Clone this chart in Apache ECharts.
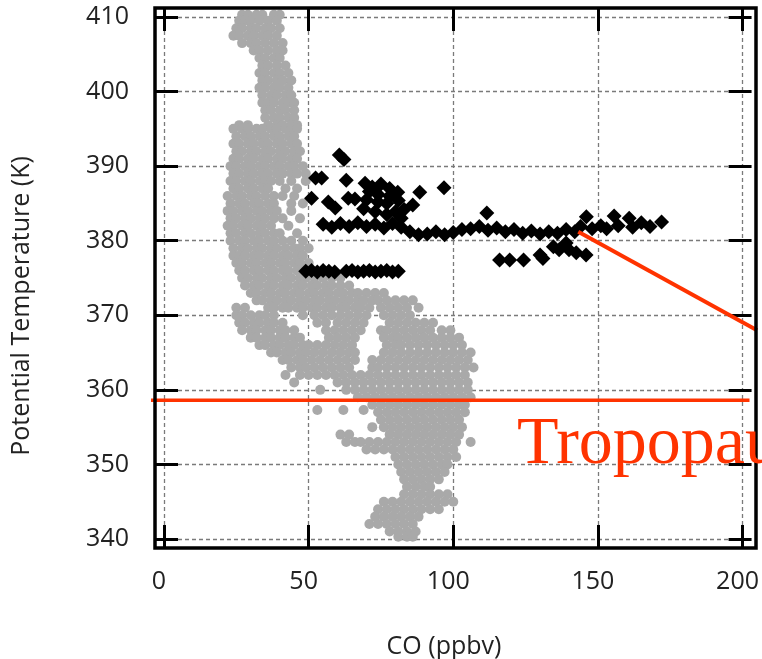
<!DOCTYPE html>
<html>
<head>
<meta charset="utf-8">
<script src="https://cdn.jsdelivr.net/npm/echarts@6.0.0/dist/echarts.min.js"></script>
<style>
  html, body { margin: 0; padding: 0; background: #fff; }
  #chart { width: 762px; height: 659px; }
</style>
</head>
<body>
<div id="chart"></div>
<script>
// Axis ticks
const coTicks = [0, 50, 100, 150, 200];
const thetaTicks = [340, 350, 360, 370, 380, 390, 400, 410];

// Background air: rows of [potential temperature (K), CO values (ppbv)]
const backgroundRows = [
  [410.3, [27, 29, 32, 34, 38, 40]],
  [409.5, [26, 28, 30, 33, 36, 39]],
  [408.5, [25, 27, 30, 32, 35, 37, 40]],
  [407.5, [24, 26, 29, 31, 34, 36, 39]],
  [406.5, [27, 30, 32, 35, 38, 41]],
  [405.5, [31, 33, 36, 39, 41]],
  [404.5, [33, 35, 38, 40]],
  [403.5, [34, 36, 39, 42]],
  [402.5, [33, 35, 38, 40, 43]],
  [401.5, [34, 36, 39, 41, 44]],
  [400.5, [33, 35, 38, 40, 43]],
  [399.5, [34, 37, 39, 42, 44]],
  [398.5, [34, 36, 38, 41, 43, 45]],
  [397.5, [35, 37, 40, 42, 45]],
  [396.5, [35, 38, 40, 43, 45]],
  [395.5, [26, 29, 36, 39, 41, 44, 46]],
  [395, [24, 27, 29, 32, 34, 37, 39, 42, 44, 46]],
  [394, [25, 28, 30, 33, 35, 38, 40, 43, 45]],
  [393, [24, 26, 29, 31, 34, 36, 39, 41, 44, 46]],
  [392, [25, 27, 30, 32, 35, 37, 40, 42, 45, 47]],
  [391, [24, 26, 29, 31, 34, 36, 39, 41, 44, 46]],
  [390, [23, 25, 28, 30, 33, 35, 38, 40, 43, 45, 48]],
  [389, [24, 26, 29, 31, 34, 36, 39, 41, 44, 46, 49]],
  [388, [23, 25, 28, 30, 33, 35, 37, 40, 44, 49]],
  [387, [24, 26, 29, 31, 34, 36, 42, 46]],
  [386, [22, 25, 27, 30, 32, 35, 38, 41, 45]],
  [385, [23, 26, 28, 31, 33, 36, 38, 44, 48]],
  [384, [22, 24, 27, 29, 32, 34, 37, 39, 44]],
  [383, [23, 25, 28, 30, 33, 35, 38, 41, 47]],
  [382, [22, 24, 27, 29, 32, 34, 37, 43]],
  [381, [23, 25, 28, 30, 33, 35, 38, 40, 46]],
  [380, [23, 26, 28, 31, 33, 36, 38, 41, 44, 48]],
  [379, [24, 27, 29, 32, 34, 37, 39, 42, 45, 47, 50]],
  [378, [24, 26, 28, 31, 33, 36, 38, 41, 43, 46, 48]],
  [377, [25, 27, 30, 32, 35, 37, 40, 42, 45, 47, 50]],
  [376, [26, 28, 31, 33, 36, 38, 41, 43, 46, 48]],
  [375, [27, 29, 32, 34, 37, 39, 42, 44, 47, 49, 52, 55, 58, 61]],
  [374, [28, 31, 33, 36, 38, 41, 43, 46, 48, 51, 53, 56, 58, 61, 64]],
  [373, [30, 32, 35, 37, 40, 42, 45, 47, 50, 52, 55, 57, 60, 62, 65, 67, 70, 73, 76]],
  [372, [32, 34, 37, 39, 42, 44, 47, 49, 52, 54, 57, 59, 62, 64, 67, 69, 72, 74, 77, 80, 83, 86]],
  [371, [25, 28, 36, 38, 41, 43, 46, 48, 51, 53, 56, 58, 61, 63, 66, 68, 71, 75, 78, 81, 84, 88]],
  [370, [25, 27, 30, 33, 35, 38, 48, 52, 55, 58, 61, 64, 67, 70, 76, 79, 82, 85]],
  [369, [26, 28, 31, 33, 36, 38, 41, 53, 56, 60, 63, 66, 69, 78, 81, 84, 87, 90, 93]],
  [368, [27, 30, 32, 35, 37, 40, 42, 45, 56, 59, 62, 65, 68, 75, 77, 80, 83, 86, 89, 92, 96, 99]],
  [367, [30, 32, 35, 37, 40, 42, 45, 47, 57, 60, 63, 66, 76, 79, 81, 84, 87, 90, 93, 96, 99, 102]],
  [366, [33, 35, 38, 40, 43, 45, 48, 50, 53, 56, 59, 62, 65, 77, 80, 82, 85, 88, 91, 94, 97, 100, 103]],
  [365, [37, 39, 42, 44, 47, 49, 52, 55, 58, 61, 64, 66, 76, 79, 82, 85, 88, 91, 94, 97, 100, 103, 106]],
  [364, [41, 43, 46, 48, 51, 54, 57, 60, 63, 66, 72, 75, 78, 81, 84, 87, 90, 93, 96, 99, 102, 105]],
  [363, [44, 47, 49, 52, 55, 58, 61, 64, 72, 74, 77, 80, 83, 86, 89, 92, 95, 98, 101, 104, 107]],
  [362, [42, 47, 50, 53, 56, 59, 62, 65, 68, 71, 74, 77, 80, 83, 86, 89, 92, 95, 98, 101, 104]],
  [361, [45, 60, 63, 66, 69, 72, 75, 78, 81, 84, 87, 90, 93, 96, 99, 102, 105]],
  [360, [54, 63, 66, 69, 72, 75, 78, 81, 84, 87, 90, 93, 96, 99, 102, 105]],
  [359, [67, 70, 73, 76, 79, 82, 85, 88, 91, 94, 97, 100, 103, 106]],
  [358, [72, 75, 78, 81, 84, 87, 90, 93, 96, 99, 102, 104]],
  [357.3, [53, 62, 69]],
  [357, [74, 77, 80, 83, 86, 89, 92, 95, 98, 101, 104]],
  [356, [75, 78, 81, 84, 87, 90, 93, 96, 99, 102]],
  [355, [72, 76, 79, 82, 85, 88, 91, 94, 97, 100, 103]],
  [354, [61, 64, 78, 81, 84, 87, 90, 93, 96, 99, 102]],
  [353, [63, 66, 68, 71, 74, 77, 80, 83, 86, 89, 92, 95, 98, 101, 106]],
  [352, [70, 73, 76, 79, 82, 85, 88, 91, 94, 97, 100]],
  [351, [80, 83, 86, 89, 92, 95, 98, 101]],
  [350, [81, 84, 87, 90, 93, 96, 98]],
  [349, [82, 85, 88, 91, 94, 97]],
  [348, [83, 86, 89, 92, 95]],
  [347, [84, 87, 90, 92]],
  [346, [83, 86, 89, 92, 95, 98]],
  [345, [76, 79, 82, 85, 88, 91, 94, 97, 100]],
  [344, [74, 77, 80, 83, 86, 89, 92, 95]],
  [343, [73, 76, 79, 82, 85, 88]],
  [342, [71, 74, 77, 80, 83, 86]],
  [341, [78, 81, 84, 87]],
  [340.3, [81, 84, 86]]
];

// Plume samples: CO (ppbv)
const plumeCO = [
  60.6, 62.2,
  52.4, 54.5, 63, 51, 56.8, 59.2, 63.7, 66,
  69.5, 72, 75, 78, 80.8, 70, 74, 77, 81, 69, 73, 77, 80, 83,
  71, 74, 78, 82, 86, 88.4, 96.8, 111.6,
  55, 58, 61, 64, 67, 70, 73, 76, 79, 82, 85, 88, 91, 94, 97, 100, 103, 106, 109, 112,
  115, 118, 121, 124, 127, 130, 133, 136, 139, 142, 144, 146, 148, 151, 153, 155.6, 157,
  160.8, 162, 165, 168, 172,
  116, 119.5, 124.3, 130, 131, 134.6, 136.6, 139, 140, 142.5, 145.9,
  49, 51, 53, 55, 57, 59, 63, 65, 67, 69, 71, 73, 75, 77, 79, 81
];
// Plume samples: potential temperature (K)
const plumeTheta = [
  391.5, 390.9,
  388.4, 388.4, 388.1, 385.7, 385.2, 384.4, 385.7, 385.6,
  387.7, 387.2, 387.6, 387.0, 386.5, 385.5, 385.2, 385.0, 385.4, 384.3, 383.9, 383.5, 383.9, 384.2,
  386.6, 386.2, 386.0, 383.0, 384.8, 386.5, 387.1, 383.7,
  382.2, 381.8, 382.3, 381.9, 382.4, 381.9, 382.2, 381.7, 382.3, 381.8, 381.2, 380.8, 380.9, 381.2, 380.8, 381.1, 381.5, 381.6, 381.9, 381.4,
  381.7, 381.2, 381.5, 381.0, 381.3, 380.9, 381.2, 381.0, 381.5, 381.2, 381.9, 383.2, 381.6, 382.0, 381.6, 383.3, 382.0,
  383.0, 381.8, 382.4, 381.9, 382.5,
  377.4, 377.4, 377.4, 378.1, 377.6, 379.2, 378.8, 379.7, 378.8, 378.4, 378.1,
  375.9, 376.0, 375.8, 376.0, 375.9, 375.8, 375.9, 376.0, 375.8, 375.9, 376.0, 375.8, 375.9, 376.0, 375.8, 375.9
];

// Tropopause level and pointer to the plume (CO, potential temperature)
const tropopauseTheta = 358.6;
const tropopauseSpan = [-4.5, 202.4];
const pointerLine = [[143.2, 381.2], [205, 368.0]];

const backgroundData = [];
backgroundRows.forEach(([theta, cos]) => cos.forEach(co => backgroundData.push([co, theta])));
const plumeData = plumeCO.map((co, i) => [co, plumeTheta[i]]);

const FONT = '"Open Sans", "DejaVu Sans", sans-serif';
const RED = '#ff3300';

const chart = echarts.init(document.getElementById('chart'), null, { renderer: 'canvas' });

const tickStyle = { show: true, inside: true, length: 23, lineStyle: { color: '#000', width: 3 } };
const gridStyle = { show: true, lineStyle: { color: '#7a7a7a', width: 1.3, type: [4, 3] } };

chart.setOption({
  animation: false,
  backgroundColor: '#fff',
  grid: { left: 164, right: 14, top: 17, bottom: 120 },
  xAxis: [
    {
      type: 'value', position: 'bottom', offset: 9,
      min: coTicks[0], max: coTicks[coTicks.length - 1], interval: 50,
      axisLine: { show: false, onZero: false },
      axisTick: tickStyle,
      axisLabel: { fontSize: 25, color: '#222', fontFamily: FONT, margin: 21, padding: [0, 10, 0, 0] },
      splitLine: gridStyle
    },
    {
      type: 'value', position: 'top', offset: 9,
      min: coTicks[0], max: coTicks[coTicks.length - 1], interval: 50,
      axisLine: { show: false, onZero: false },
      axisTick: tickStyle,
      axisLabel: { show: false },
      splitLine: { show: false }
    }
  ],
  yAxis: [
    {
      type: 'value', position: 'left', offset: 9,
      min: thetaTicks[0], max: thetaTicks[thetaTicks.length - 1], interval: 10,
      axisLine: { show: false, onZero: false },
      axisTick: tickStyle,
      axisLabel: { fontSize: 25, color: '#222', fontFamily: FONT, margin: 26, padding: [4, 0, 0, 0] },
      splitLine: gridStyle
    },
    {
      type: 'value', position: 'right', offset: 9,
      min: thetaTicks[0], max: thetaTicks[thetaTicks.length - 1], interval: 10,
      axisLine: { show: false, onZero: false },
      axisTick: tickStyle,
      axisLabel: { show: false },
      splitLine: { show: false }
    }
  ],
  series: [
    {
      name: 'background', type: 'scatter', data: backgroundData, clip: false,
      symbol: 'circle', symbolSize: 10, z: 2,
      itemStyle: { color: '#a9a9a9', opacity: 1 }
    },
    {
      name: 'plume', type: 'scatter', data: plumeData, clip: false,
      symbol: 'diamond', symbolSize: 15, z: 3,
      itemStyle: { color: '#000', opacity: 1 }
    }
  ],
  graphic: [
    {
      type: 'rect', z: 10, silent: true,
      shape: { x: 155, y: 8, width: 601, height: 540 },
      style: { fill: 'none', stroke: '#000', lineWidth: 3.5 }
    },
    {
      type: 'text', z: 10, x: 444, y: 647,
      style: { text: 'CO (ppbv)', fill: '#222', font: '25px ' + FONT, textAlign: 'center', textVerticalAlign: 'middle' }
    },
    {
      type: 'text', z: 10, x: 22, y: 306, rotation: Math.PI / 2,
      style: { text: 'Potential Temperature (K)', fill: '#222', font: '25px ' + FONT, textAlign: 'center', textVerticalAlign: 'middle' }
    },
    {
      type: 'text', z: 11, x: 517, y: 479,
      style: { text: 'Tropopause', fill: RED, font: '68px "Liberation Serif", "Times New Roman", serif', textAlign: 'left', textVerticalAlign: 'bottom' }
    }
  ]
});

// Red annotation lines, placed through the chart's own coordinate system
const toPx = (p) => chart.convertToPixel({ xAxisIndex: 0, yAxisIndex: 0 }, p);
const t0 = toPx([tropopauseSpan[0], tropopauseTheta]);
const t1 = toPx([tropopauseSpan[1], tropopauseTheta]);
const p0 = toPx(pointerLine[0]);
const p1 = toPx(pointerLine[1]);
chart.setOption({
  graphic: [
    {
      id: 'tropopause', type: 'line', z: 9, silent: true,
      shape: { x1: t0[0], y1: t0[1], x2: t1[0], y2: t1[1] },
      style: { stroke: RED, lineWidth: 3.5 }
    },
    {
      id: 'pointer', type: 'line', z: 9, silent: true,
      shape: { x1: p0[0], y1: p0[1], x2: p1[0], y2: p1[1] },
      style: { stroke: RED, lineWidth: 4 }
    }
  ]
});
</script>
</body>
</html>
